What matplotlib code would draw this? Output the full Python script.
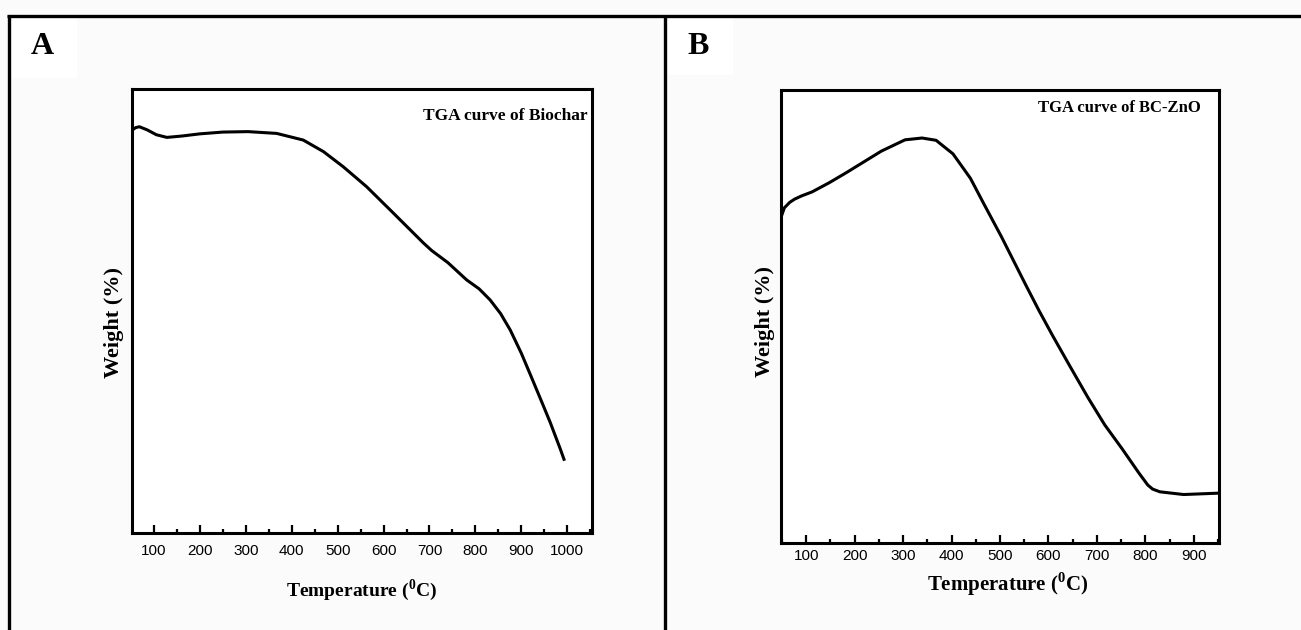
import matplotlib.pyplot as plt
from matplotlib.lines import Line2D
from matplotlib.patches import Rectangle
from matplotlib.ticker import MultipleLocator

plt.rcParams['mathtext.fontset'] = 'custom'
plt.rcParams['mathtext.rm'] = 'Liberation Serif:bold'
plt.rcParams['mathtext.bf'] = 'Liberation Serif:bold'

# TGA of biochar: temperature (C) and weight (%)
biochar_temp = [53, 60, 68, 85, 105, 128, 160, 200, 250, 305, 367, 425,
                469, 512, 563, 614, 687, 705, 740, 781, 808, 832, 855, 876,
                900, 920, 941, 963, 985, 993]
biochar_weight = [90.8, 91.3, 91.5, 90.8, 89.7, 89.1, 89.4, 89.9, 90.3, 90.4,
                  90.0, 88.5, 85.9, 82.5, 78.0, 72.8, 65.3, 63.6, 60.9, 57.0,
                  55.0, 52.5, 49.4, 45.7, 40.5, 35.6, 30.4, 24.9, 18.9, 16.6]

# TGA of BC-ZnO composite
bczno_temp = [49, 55, 66, 76, 90, 112, 147, 182, 220, 255, 304, 339, 368,
              403, 439, 467, 503, 553, 581, 609, 645, 681, 716, 752, 787,
              805, 815, 830, 879, 950]
bczno_weight = [72.2, 74.0, 75.2, 75.9, 76.6, 77.5, 79.5, 81.7, 84.2, 86.5,
                89.0, 89.4, 88.9, 85.9, 80.5, 74.8, 67.6, 57.0, 51.2, 45.7,
                38.9, 32.2, 26.1, 20.8, 15.4, 12.8, 11.9, 11.3, 10.7, 11.0]

W, H = 1301, 630
fig = plt.figure(figsize=(W / 100, H / 100), dpi=100)
fig.patch.set_facecolor('#fbfbfb')

serif = 'Liberation Serif'
sans = 'Liberation Sans'


def fx(px):
    return px / W


def fy(py):
    return 1 - py / H


# outer frame and divider
for xs, ys in [([7, W], [15.5, 15.5]), ([8.5, 8.5], [15, H]), ([665, 665], [15, H])]:
    fig.add_artist(Line2D([fx(x) for x in xs], [fy(y) for y in ys],
                          color='black', lw=2.4, solid_capstyle='butt'))

# white boxes behind panel letters
fig.add_artist(Rectangle((fx(10), fy(78)), fx(67), 60 / H, color='white', lw=0))
fig.add_artist(Rectangle((fx(667), fy(75)), fx(66), 58 / H, color='white', lw=0))
fig.text(fx(42), fy(47), 'A', fontsize=23, fontweight='bold', family=serif,
         ha='center', va='center')
fig.text(fx(698), fy(46), 'B', fontsize=23, fontweight='bold', family=serif,
         ha='center', va='center')


def panel(box, temp, weight, xlim, xticks, title, title_xy, xlabel_xy, ylabel_xy,
          label_pad, xlabel_size, title_size):
    left, top, right, bottom = box
    ax = fig.add_axes([fx(left), fy(bottom), (right - left) / W, (bottom - top) / H])
    ax.set_facecolor('white')
    ax.plot(temp, weight, color='black', lw=2.2, solid_joinstyle='round')
    ax.set_xlim(*xlim)
    ax.set_ylim(0, 100)
    ax.set_xticks(xticks)
    ax.xaxis.set_minor_locator(MultipleLocator(50))
    ax.set_yticks([])
    ax.tick_params(axis='x', which='major', direction='in', length=6, width=1.6,
                   pad=label_pad, labelsize=11)
    ax.tick_params(axis='x', which='minor', direction='in', length=3, width=1.6)
    for lab in ax.get_xticklabels():
        lab.set_family(sans)
    for sp in ax.spines.values():
        sp.set_linewidth(2.2)
    ax.text(title_xy[0], title_xy[1], title, transform=ax.transAxes, ha='right',
            va='center', fontsize=title_size, fontweight='bold', family=serif)
    ax.set_xlabel('Temperature ($^{0}$C)', fontsize=xlabel_size, fontweight='bold',
                  family=serif)
    ax.xaxis.set_label_coords(*xlabel_xy)
    ax.set_ylabel('Weight (%)', fontsize=16, fontweight='bold', family=serif)
    ax.yaxis.set_label_coords(*ylabel_xy)
    return ax


panel((132, 89, 592, 533), biochar_temp, biochar_weight, (52, 1054),
      list(range(100, 1001, 100)), 'TGA curve of Biochar', (0.991, 0.939),
      (0.5, -0.10), (-0.018, 0.473), 8, 14, 12.5)

panel((781, 90, 1219, 543), bczno_temp, bczno_weight, (48, 952),
      list(range(100, 901, 100)), 'TGA curve of BC-ZnO', (0.959, 0.960),
      (0.518, -0.06), (-0.014, 0.49), 4, 15, 12)

fig.savefig('out.png', dpi=100, facecolor=fig.get_facecolor())
